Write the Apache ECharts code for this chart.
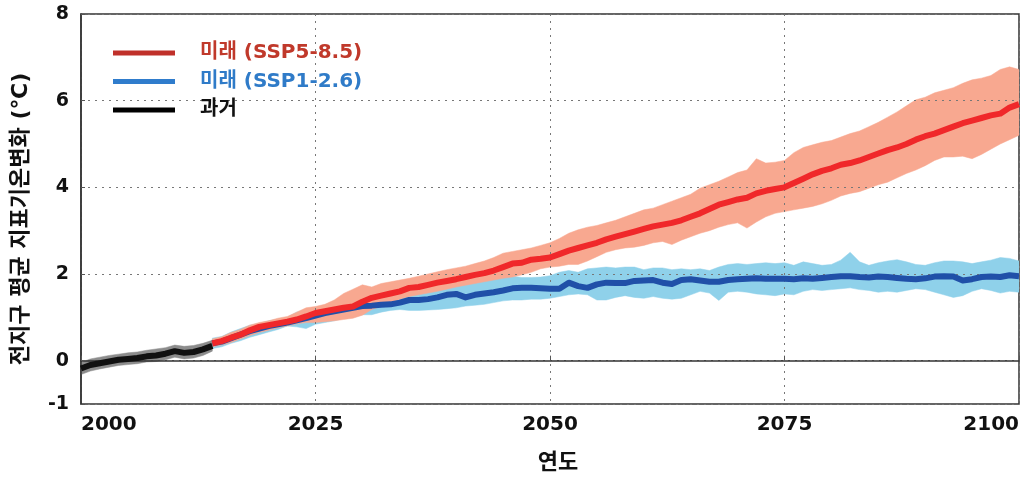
<!DOCTYPE html>
<html>
<head>
<meta charset="utf-8">
<script src="https://cdn.jsdelivr.net/npm/echarts@6/dist/echarts.min.js"></script>
<style>
  html, body { margin: 0; padding: 0; background: #fff; }
  #chart { width: 1022px; height: 479px; }
</style>
</head>
<body>
<div id="chart"></div>
<script>
// 과거 (2000-2014)
const pastYears = [2000, 2001, 2002, 2003, 2004, 2005, 2006, 2007, 2008, 2009, 2010, 2011, 2012, 2013, 2014];
const pastMean  = [-0.18, -0.10, -0.06, -0.02, 0.02, 0.04, 0.06, 0.10, 0.12, 0.16, 0.22, 0.18, 0.20, 0.26, 0.34];
const pastUpper = [-0.04, 0.04, 0.08, 0.12, 0.15, 0.18, 0.20, 0.24, 0.27, 0.30, 0.36, 0.33, 0.35, 0.40, 0.47];
const pastLower = [-0.32, -0.24, -0.19, -0.15, -0.11, -0.09, -0.07, -0.03, -0.02, 0.02, 0.08, 0.04, 0.06, 0.12, 0.22];

// 미래 (2014-2100)
const futureYears = [];
for (let y = 2014; y <= 2100; y++) futureYears.push(y);

const ssp585Mean = [0.40, 0.45, 0.53, 0.60, 0.70, 0.78, 0.82, 0.86, 0.90, 0.95, 1.02, 1.10, 1.14, 1.18, 1.22, 1.25,
  1.36, 1.45, 1.50, 1.55, 1.60, 1.68, 1.70, 1.75, 1.80, 1.84, 1.88, 1.93, 1.98, 2.02, 2.08, 2.16, 2.24, 2.26, 2.33, 2.35,
  2.38, 2.46, 2.54, 2.60, 2.66, 2.72, 2.80, 2.86, 2.92, 2.98, 3.04, 3.10, 3.14, 3.18, 3.24, 3.32, 3.40, 3.50, 3.60, 3.66,
  3.72, 3.76, 3.86, 3.92, 3.96, 4.00, 4.10, 4.20, 4.30, 4.38, 4.44, 4.52, 4.56, 4.62, 4.70, 4.78, 4.86, 4.92, 5.00, 5.10,
  5.18, 5.24, 5.32, 5.40, 5.48, 5.54, 5.60, 5.66, 5.70, 5.84, 5.92];
const ssp585Upper = [0.50, 0.55, 0.65, 0.72, 0.82, 0.88, 0.92, 0.98, 1.02, 1.12, 1.22, 1.25, 1.30, 1.40, 1.55, 1.65,
  1.75, 1.70, 1.78, 1.82, 1.86, 1.90, 1.95, 2.00, 2.05, 2.10, 2.14, 2.18, 2.24, 2.30, 2.38, 2.48, 2.52, 2.56, 2.60, 2.66,
  2.72, 2.82, 2.94, 3.02, 3.08, 3.12, 3.18, 3.24, 3.32, 3.40, 3.48, 3.52, 3.60, 3.68, 3.76, 3.84, 3.98, 4.06, 4.14, 4.24,
  4.34, 4.40, 4.66, 4.56, 4.58, 4.62, 4.80, 4.92, 4.98, 5.04, 5.08, 5.16, 5.24, 5.30, 5.40, 5.50, 5.62, 5.74, 5.88, 6.02,
  6.08, 6.18, 6.24, 6.30, 6.40, 6.48, 6.52, 6.58, 6.72, 6.78, 6.72];
const ssp585Lower = [0.32, 0.36, 0.42, 0.50, 0.58, 0.65, 0.70, 0.76, 0.80, 0.85, 0.88, 0.88, 0.90, 0.92, 0.95, 0.98,
  1.05, 1.18, 1.26, 1.34, 1.42, 1.48, 1.52, 1.56, 1.60, 1.65, 1.70, 1.74, 1.78, 1.82, 1.86, 1.90, 1.93, 1.98, 2.04, 2.12,
  2.16, 2.18, 2.22, 2.22, 2.30, 2.40, 2.50, 2.56, 2.60, 2.62, 2.66, 2.72, 2.75, 2.68, 2.78, 2.86, 2.94, 3.00, 3.08, 3.14,
  3.18, 3.06, 3.20, 3.32, 3.40, 3.44, 3.48, 3.52, 3.56, 3.62, 3.70, 3.80, 3.86, 3.90, 3.98, 4.06, 4.12, 4.22, 4.32, 4.40,
  4.50, 4.62, 4.70, 4.70, 4.72, 4.66, 4.76, 4.88, 5.00, 5.10, 5.20];

const ssp126Mean = [0.40, 0.44, 0.52, 0.60, 0.68, 0.74, 0.80, 0.84, 0.88, 0.93, 0.98, 1.04, 1.10, 1.14, 1.18, 1.22,
  1.26, 1.27, 1.29, 1.30, 1.34, 1.40, 1.40, 1.42, 1.46, 1.52, 1.54, 1.46, 1.52, 1.55, 1.58, 1.62, 1.67, 1.68, 1.68, 1.67,
  1.66, 1.66, 1.80, 1.72, 1.68, 1.76, 1.80, 1.79, 1.79, 1.84, 1.85, 1.86, 1.80, 1.77, 1.86, 1.88, 1.85, 1.82, 1.82, 1.86,
  1.88, 1.89, 1.90, 1.89, 1.89, 1.89, 1.88, 1.90, 1.89, 1.91, 1.93, 1.95, 1.95, 1.93, 1.92, 1.94, 1.93, 1.91, 1.89, 1.88,
  1.90, 1.94, 1.95, 1.94, 1.85, 1.88, 1.93, 1.94, 1.93, 1.97, 1.95];
const ssp126Upper = [0.52, 0.56, 0.66, 0.74, 0.82, 0.86, 0.92, 0.96, 1.00, 1.12, 1.18, 1.22, 1.28, 1.38, 1.32, 1.30,
  1.32, 1.36, 1.42, 1.46, 1.52, 1.58, 1.62, 1.66, 1.70, 1.76, 1.80, 1.84, 1.88, 1.92, 1.95, 1.96, 1.95, 1.92, 1.92, 1.93,
  1.96, 2.04, 2.08, 2.04, 2.12, 2.14, 2.16, 2.14, 2.16, 2.16, 2.10, 2.14, 2.14, 2.10, 2.12, 2.10, 2.12, 2.08, 2.16, 2.22,
  2.24, 2.22, 2.24, 2.26, 2.24, 2.26, 2.20, 2.28, 2.24, 2.20, 2.22, 2.32, 2.50, 2.28, 2.20, 2.26, 2.30, 2.33, 2.28, 2.22,
  2.20, 2.26, 2.30, 2.30, 2.28, 2.24, 2.28, 2.32, 2.38, 2.36, 2.30];
const ssp126Lower = [0.28, 0.32, 0.40, 0.46, 0.54, 0.60, 0.66, 0.72, 0.80, 0.78, 0.74, 0.84, 0.88, 0.92, 0.98, 1.04,
  1.06, 1.06, 1.12, 1.16, 1.18, 1.16, 1.16, 1.17, 1.18, 1.20, 1.22, 1.26, 1.28, 1.30, 1.34, 1.38, 1.40, 1.40, 1.42, 1.42,
  1.44, 1.48, 1.52, 1.54, 1.52, 1.40, 1.40, 1.46, 1.50, 1.46, 1.44, 1.48, 1.44, 1.42, 1.44, 1.52, 1.60, 1.56, 1.39, 1.58,
  1.60, 1.58, 1.54, 1.52, 1.50, 1.54, 1.52, 1.60, 1.64, 1.62, 1.64, 1.66, 1.68, 1.64, 1.62, 1.58, 1.60, 1.58, 1.62, 1.66,
  1.64, 1.58, 1.52, 1.46, 1.50, 1.60, 1.66, 1.62, 1.56, 1.60, 1.58];

const xTicks = [2000, 2025, 2050, 2075, 2100];
const yTicks = [-1, 0, 2, 4, 6, 8];

const names = ['미래 (SSP5-8.5)', '미래 (SSP1-2.6)', '과거'];

function pairs(xs, ys) {
  return xs.map(function (x, i) { return [x, ys[i]]; });
}

// 범위(음영) : 하한~상한 폴리곤을 custom 시리즈로 그림
function band(id, xs, lo, hi, color) {
  const rows = xs.map(function (x, i) { return [x, lo[i], hi[i]]; });
  return {
    name: id, type: 'custom', silent: true, clip: true, z: 0,
    encode: { x: 0, y: [1, 2] },
    data: rows,
    renderItem: function (params, api) {
      if (params.dataIndex !== 0) return null;
      const top = rows.map(function (r) { return api.coord([r[0], r[2]]); });
      const bottom = rows.map(function (r) { return api.coord([r[0], r[1]]); }).reverse();
      return {
        type: 'polygon',
        shape: { points: top.concat(bottom) },
        style: { fill: color, stroke: color, lineWidth: 0.5 }
      };
    }
  };
}

function meanLine(name, xs, ys, color) {
  return { name: name, type: 'line', data: pairs(xs, ys), symbol: 'none', z: 3,
    lineStyle: { color: color, width: 6, join: 'round' }, itemStyle: { color: color } };
}

const fontKr = '"DejaVu Sans", "Noto Sans CJK KR", sans-serif';

let chart = echarts.init(document.getElementById('chart'));
let option = {
  animation: false,
  backgroundColor: '#fff',
  grid: {
    left: 81, right: 2, top: 14, bottom: 70,
    show: true, borderColor: '#333', borderWidth: 1.5
  },
  legend: {
    left: 113, top: 42, orient: 'vertical', padding: 0,
    icon: 'rect', itemWidth: 62, itemHeight: 5, itemGap: 6.5,
    textStyle: { fontSize: 20, fontWeight: 'bold', fontFamily: fontKr, lineHeight: 22, padding: [0, 0, 0, 20] },
    data: [
      { name: names[0], itemStyle: { color: '#c0302a' }, textStyle: { color: '#c0392b' } },
      { name: names[1], itemStyle: { color: '#2f7ccc' }, textStyle: { color: '#2f7bc8' } },
      { name: names[2], itemStyle: { color: '#000' }, textStyle: { color: '#111' } }
    ]
  },
  xAxis: {
    type: 'value', min: 2000, max: 2100, interval: 25, z: 1,
    name: '연도', nameLocation: 'middle', nameGap: 48,
    nameTextStyle: { fontSize: 22, fontWeight: 'bold', fontFamily: fontKr, color: '#111', padding: [0, 0, 0, 16] },
    axisLine: { lineStyle: { color: '#333', width: 1.5 } },
    axisTick: { inside: true, length: 5, lineStyle: { color: '#555' } },
    axisLabel: {
      fontSize: 20, fontWeight: 'bold', fontFamily: 'DejaVu Sans', color: '#111', margin: 11,
      alignMinLabel: 'left', alignMaxLabel: 'right',
      customValues: xTicks, formatter: function (v) { return String(v); }
    },
    splitLine: { show: true, lineStyle: { color: '#777', type: [2, 5], width: 1 } }
  },
  yAxis: {
    type: 'value', min: -1, max: 8, z: 1,
    name: '전지구 평균 지표기온변화 (℃)', nameLocation: 'middle', nameGap: 49,
    nameTextStyle: { fontSize: 22, fontWeight: 'bold', fontFamily: fontKr, color: '#111', padding: [0, 20, 0, 0] },
    axisLine: { show: true, lineStyle: { color: '#333', width: 1.5 } },
    axisTick: { show: true, inside: true, length: 4, customValues: yTicks, lineStyle: { color: '#555' } },
    axisLabel: {
      fontSize: 19, fontWeight: 'bold', fontFamily: 'DejaVu Sans', color: '#111', margin: 12,
      padding: [6, 0, 0, 0], customValues: yTicks
    },
    splitLine: { show: true, lineStyle: { color: '#777', type: [2, 5], width: 1 } }
  },
  series: [
    band('b', futureYears, ssp126Lower, ssp126Upper, '#8fd1ea'),
    band('r', futureYears, ssp585Lower, ssp585Upper, '#f8a890'),
    meanLine(names[1], futureYears, ssp126Mean, '#2050a8'),
    meanLine(names[0], futureYears, ssp585Mean, '#f0282a'),
    band('p', pastYears, pastLower, pastUpper, '#8c8c8c'),
    meanLine(names[2], pastYears, pastMean, '#111')
  ]
};
chart.setOption(option);
</script>
</body>
</html>
